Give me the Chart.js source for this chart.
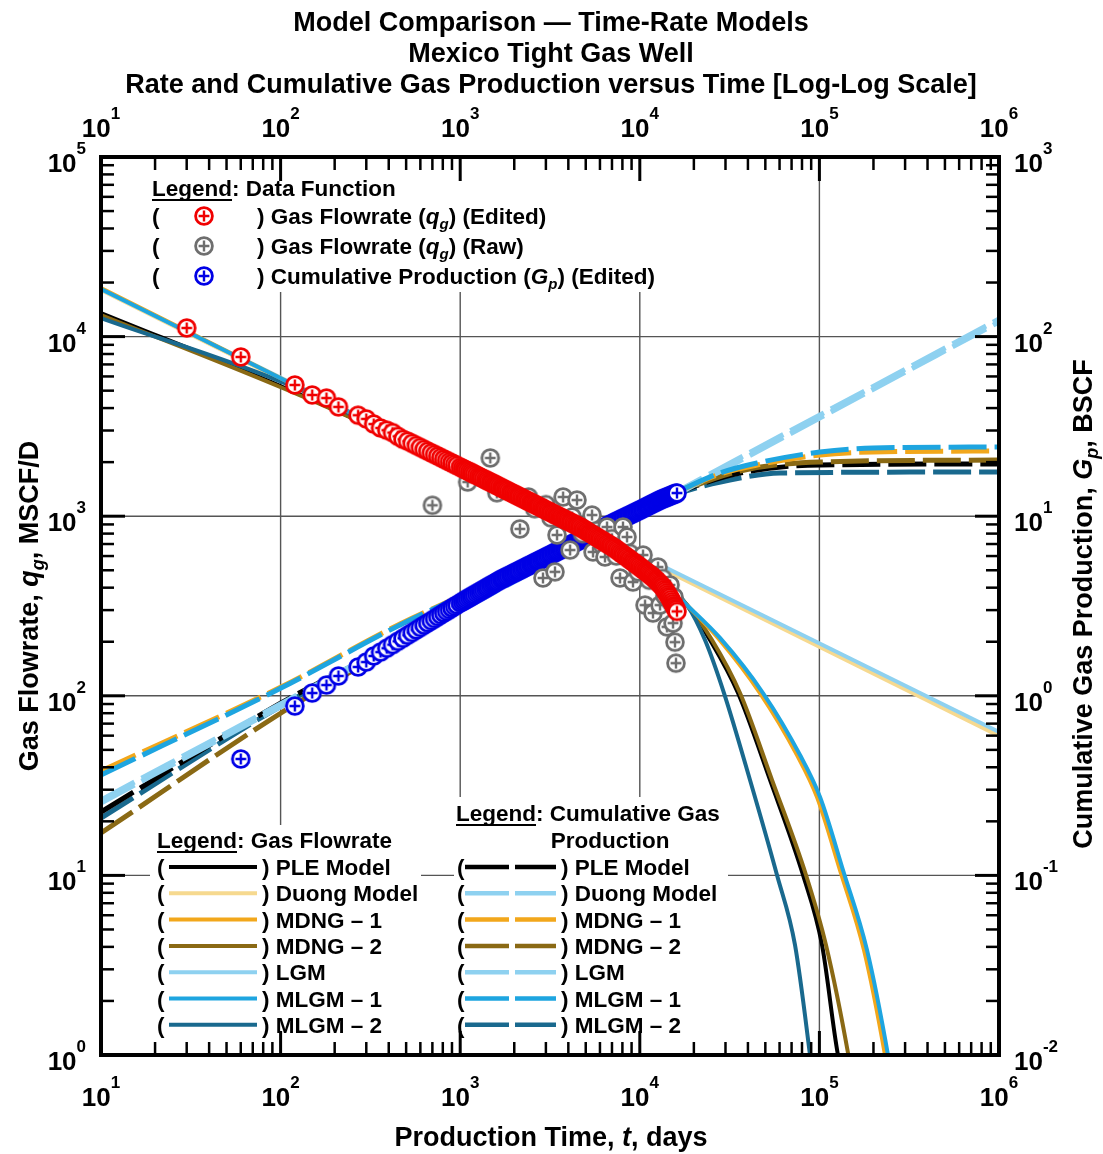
<!DOCTYPE html>
<html>
<head>
<meta charset="utf-8">
<script src="https://cdn.jsdelivr.net/npm/chart.js@4.4.1/dist/chart.umd.min.js"></script>
<style>
  html, body { margin: 0; padding: 0; background: #fff; }
  canvas { display: block; }
</style>
</head>
<body>
<canvas id="chart" width="1103" height="1154"></canvas>
<script>
const FONT = '"Liberation Sans", Arial, Helvetica, sans-serif';

/* axes: decades and exponent labels */
const xDecades   = [1e1, 1e2, 1e3, 1e4, 1e5, 1e6];
const xExponents = ['1', '2', '3', '4', '5', '6'];
const yDecades   = [1e0, 1e1, 1e2, 1e3, 1e4, 1e5];
const yExponents = ['0', '1', '2', '3', '4', '5'];
const y2Decades  = [1e-2, 1e-1, 1e0, 1e1, 1e2, 1e3];
const y2Exponents = ['-2', '-1', '0', '1', '2', '3'];
const minorSteps = [2, 3, 4, 5, 6, 7, 8, 9];

/* edited gas flowrate, MSCF/D */
const tEdited = [30, 60, 120, 150, 180, 210, 270, 300, 330, 360, 390, 420, 450, 480, 510, 540, 570, 600, 630, 660,
  690, 720, 750, 780, 810, 840, 870, 900, 930, 960,
  1000, 1025, 1050, 1075, 1100, 1125, 1150, 1175, 1200, 1230,
  1260, 1290, 1320, 1350, 1380, 1410, 1440, 1470, 1500, 1530,
  1560, 1590, 1620, 1655, 1690, 1720, 1750, 1785, 1820, 1860,
  1900, 1940, 1980, 2020, 2060, 2100, 2140, 2185, 2230, 2275,
  2320, 2365, 2410, 2460, 2510, 2560, 2610, 2660, 2710, 2765,
  2820, 2875, 2930, 2990, 3050, 3110, 3170, 3235, 3300, 3365,
  3430, 3500, 3570, 3640, 3710, 3785, 3860, 3935, 4010, 4090,
  4170, 4255, 4340, 4425, 4510, 4600, 4690, 4785, 4880, 4980,
  5080, 5180, 5280, 5385, 5490, 5600, 5710, 5825, 5940, 6060,
  6180, 6305, 6430, 6560, 6690, 6825, 6960, 7100, 7240, 7385,
  7530, 7680, 7830, 7985, 8140, 8305, 8470, 8640, 8810, 8985,
  9160, 9345, 9530, 9720, 9910, 10100, 10300, 10500, 10700, 10900,
  11100, 11300, 11500, 11700, 11900, 12100, 12300, 12500, 12700, 12900,
  13100, 13300, 13500, 13700, 13900, 14100, 14300, 14500, 14700, 14900,
  15100, 15300, 15500, 15650, 15800, 15950, 16100];
const qEdited = [11170, 7700, 5380, 4730, 4550, 4060, 3650, 3480, 3260, 3100, 3010, 2920, 2783, 2680, 2617, 2544, 2477, 2415, 2357, 2303,
  2253, 2206, 2162, 2121, 2082, 2045, 2009, 1976, 1944, 1913,
  1875, 1852, 1830, 1809, 1788, 1769, 1750, 1731, 1713, 1692,
  1672, 1653, 1634, 1616, 1598, 1581, 1565, 1549, 1534, 1519,
  1505, 1490, 1476, 1459, 1443, 1430, 1418, 1404, 1391, 1376,
  1361, 1347, 1334, 1321, 1308, 1295, 1283, 1270, 1257, 1244,
  1232, 1220, 1209, 1197, 1185, 1173, 1162, 1151, 1140, 1129,
  1118, 1107, 1096, 1085, 1074, 1064, 1054, 1043, 1033, 1023,
  1013, 1003, 993, 983, 974, 964, 955, 946, 937, 928,
  919, 910, 901, 892, 884, 875, 866, 855, 845, 835,
  825, 815, 806, 796, 787, 778, 769, 759, 750, 741,
  732, 723, 715, 706, 698, 689, 681, 672, 664, 654,
  645, 635, 626, 617, 608, 600, 591, 582, 574, 565,
  557, 549, 541, 533, 526, 518, 511, 503, 496, 489,
  482, 475, 469, 462, 456, 449, 442, 435, 428, 421,
  415, 408, 402, 393, 384, 375, 367, 359, 352, 343,
  334, 326, 319, 313, 307, 302, 295];

/* raw gas flowrate (visible outliers), MSCF/D */
const tRaw = [700, 1100, 1470, 1600, 2150, 2400, 2600, 2890, 3000, 3200, 3370, 3460, 3740, 4090, 4200, 4470, 4800, 5420, 5490, 5800,
  6200, 6400, 6570, 7000, 7400, 7760, 8060, 8490, 8800, 9165, 9800, 10420, 10690, 11300, 11840, 12000, 12630, 12960, 13400, 13800,
  14170, 14400, 14730, 15000, 15310, 15500, 15700, 15900];
const qRaw = [1150, 1550, 2110, 1350, 850, 1280, 1100, 453, 1160, 980, 490, 786, 1280, 648, 990, 1230, 800, 1015, 632, 830,
  690, 593, 871, 750, 600, 453, 871, 766, 620, 430, 490, 608, 320, 440, 289, 505, 521, 320, 450, 360,
  242, 400, 414, 330, 254, 355, 199, 152];

/* edited cumulative production, BSCF (same months as the edited rate, from day 60) */
const tCum = tEdited.slice(1);
const gCum = [0.445, 0.877, 1.036, 1.148, 1.289, 1.447, 1.542, 1.666, 1.751, 1.840, 1.927, 2.012, 2.093, 2.174, 2.252, 2.328, 2.403, 2.476, 2.548,
  2.618, 2.689, 2.758, 2.825, 2.891, 2.956, 3.021, 3.085, 3.148, 3.210,
  3.291, 3.338, 3.385, 3.430, 3.476, 3.521, 3.566, 3.610, 3.654, 3.706,
  3.758, 3.809, 3.860, 3.910, 3.960, 4.010, 4.059, 4.107, 4.154, 4.202,
  4.249, 4.296, 4.343, 4.395, 4.446, 4.485, 4.524, 4.569, 4.614, 4.664,
  4.714, 4.764, 4.813, 4.861, 4.909, 4.956, 5.003, 5.055, 5.107, 5.159,
  5.210, 5.260, 5.309, 5.364, 5.419, 5.472, 5.525, 5.578, 5.631, 5.687,
  5.743, 5.799, 5.855, 5.914, 5.973, 6.031, 6.089, 6.151, 6.213, 6.274,
  6.334, 6.398, 6.462, 6.525, 6.588, 6.654, 6.720, 6.784, 6.848, 6.916,
  6.983, 7.054, 7.125, 7.195, 7.264, 7.336, 7.408, 7.484, 7.560, 7.639,
  7.718, 7.796, 7.873, 7.954, 8.034, 8.116, 8.197, 8.282, 8.366, 8.452,
  8.538, 8.626, 8.714, 8.803, 8.892, 8.985, 9.077, 9.167, 9.256, 9.345,
  9.433, 9.523, 9.612, 9.703, 9.793, 9.888, 9.982, 10.08, 10.17, 10.27,
  10.36, 10.47, 10.57, 10.67, 10.77, 10.87, 10.97, 11.08, 11.19, 11.29,
  11.39, 11.50, 11.60, 11.70, 11.80, 11.90, 11.99, 12.09, 12.19, 12.28,
  12.37, 12.45, 12.52, 12.60, 12.67, 12.75, 12.82, 12.90, 12.97, 13.04,
  13.11, 13.18, 13.25, 13.31, 13.36, 13.41, 13.46];

/* model rate curves, MSCF/D */
const pleRateT   = [10, 105.8, 462, 1666, 3595, 7094, 11400, 18310, 24600, 35230, 53070, 81040, 103400, 126900, 137800];
const pleRateQ   = [13530, 5173, 2657, 1436, 1003, 691, 502, 320, 204.5, 103.6, 34.0, 10.05, 4.10, 1.0, 0.726];
const duongRateT = [10, 1e6];
const duongRateQ = [18180, 59.7];
const mdng1RateT = [10, 119, 462, 1666, 3595, 7094, 11400, 18310, 27250, 46700, 75050, 96960, 130200, 177100, 231900, 244100];
const mdng1RateQ = [18650, 5378, 2761, 1455, 1003, 691, 502, 320, 210, 103.6, 46.8, 27.3, 10.7, 3.84, 1.0, 0.726];
const mdng2RateT = [10, 105.8, 462, 1666, 3595, 7094, 11400, 18310, 25240, 36140, 54460, 84230, 108800, 145000, 152600];
const mdng2RateQ = [13190, 5108, 2657, 1436, 1003, 691, 502, 320, 204.5, 103.6, 34.0, 10.05, 4.10, 1.0, 0.726];
const lgmRateT   = [10, 1e6];
const lgmRateQ   = [18410, 62.9];
const mlgm1RateT = [10, 119, 462, 1666, 3595, 7094, 11400, 18310, 27960, 48530, 77980, 100800, 135300, 184100, 241000, 253700];
const mlgm1RateQ = [18410, 5378, 2761, 1455, 1003, 691, 502, 320, 210, 103.6, 46.8, 27.3, 10.7, 3.84, 1.0, 0.726];
const mlgm2RateT = [10, 118.8, 462, 1666, 3595, 7094, 11400, 18310, 23070, 29430, 41080, 58060, 73130, 88660, 92130];
const mlgm2RateQ = [12690, 5240, 2657, 1436, 1003, 691, 502, 320, 204.5, 103.6, 34.0, 10.05, 4.10, 1.0, 0.726];

/* model cumulative curves, BSCF */
const pleCumT   = [10, 100.5, 462, 1666, 4645, 10020, 16100, 36140, 100800, 1e6];
const pleCumG   = [0.2254, 0.912, 2.019, 4.357, 7.276, 10.83, 13.46, 17.40, 19.28, 19.53];
const duongCumT = [10, 1e6];
const duongCumG = [0.2530, 120.6];
const mdng1CumT = [10, 100.5, 462, 1666, 4645, 10020, 16100, 27960, 44940, 100800, 198800, 1e6];
const mdng1CumG = [0.3814, 1.119, 2.510, 4.528, 7.563, 11.11, 13.64, 17.18, 19.28, 21.92, 22.78, 23.07];
const mdng2CumT = [10, 100.5, 462, 1666, 4645, 10020, 16100, 36140, 100800, 1e6];
const mdng2CumG = [0.1722, 0.802, 1.968, 4.301, 7.276, 10.83, 13.46, 17.85, 20.03, 20.55];
const lgmCumT   = [10, 1e6];
const lgmCumG   = [0.2629, 125.3];
const mlgm1CumT = [10, 100.5, 462, 1666, 4645, 10020, 16100, 27960, 44940, 100800, 198800, 1e6];
const mlgm1CumG = [0.3622, 1.105, 2.479, 4.528, 7.563, 11.11, 13.64, 17.40, 19.78, 22.78, 23.97, 24.28];
const mlgm2CumT = [10, 100.5, 462, 1666, 4645, 10020, 16100, 36140, 60340, 1e6];
const mlgm2CumG = [0.2087, 0.877, 1.993, 4.301, 7.276, 10.69, 13.29, 16.32, 17.40, 17.63];

const modelNames = ['PLE Model', 'Duong Model', 'MDNG \u2013 1', 'MDNG \u2013 2', 'LGM', 'MLGM \u2013 1', 'MLGM \u2013 2'];

const black  = '#000000';
const wheat  = '#F6D98F';
const gold   = '#F2A71B';
const bronze = '#8A6914';
const sky    = '#8ED1F0';
const azure  = '#1EA5E0';
const navy   = '#19698E';
const rateColors = [black, wheat, gold, bronze, sky, azure, navy];
const cumColors  = [black, sky, gold, bronze, sky, azure, navy];

const B  = s => `bold ${s}px ${FONT}`;
const BI = s => `italic bold ${s}px ${FONT}`;

function makeMarker(color) {
  const c = document.createElement('canvas');
  c.width = 24; c.height = 24;
  const g = c.getContext('2d');
  g.beginPath();
  g.arc(12, 12, 8.4, 0, Math.PI * 2);
  g.fillStyle = '#fff';
  g.fill();
  g.lineWidth = 2.8;
  g.strokeStyle = color;
  g.stroke();
  g.beginPath();
  g.moveTo(6.6, 12); g.lineTo(17.4, 12);
  g.moveTo(12, 6.6); g.lineTo(12, 17.4);
  g.lineWidth = 2.4;
  g.stroke();
  return c;
}
const markRed  = makeMarker('#F00000');
const markGray = makeMarker('#6E6E6E');
const markBlue = makeMarker('#0000E6');

const pts = (ts, vs) => ts.map((t, i) => ({ x: t, y: vs[i] }));

function rateLine(label, ts, vs, color, order) {
  return { label, data: pts(ts, vs), yAxisID: 'y', showLine: true, borderColor: color, borderWidth: 4,
    pointRadius: 0, cubicInterpolationMode: 'monotone', order };
}
function cumLine(label, ts, vs, color, order) {
  return { label, data: pts(ts, vs), yAxisID: 'y2', showLine: true, borderColor: color, borderWidth: 5,
    borderDash: [38, 8], pointRadius: 0, cubicInterpolationMode: 'monotone', order };
}
function markers(label, ts, vs, axis, img, order) {
  return { label, data: pts(ts, vs), yAxisID: axis, showLine: false, pointStyle: img, pointRadius: 10, order };
}

function partsWidth(ctx, parts) {
  let w = 0;
  parts.forEach(p => { ctx.font = p.font; w += ctx.measureText(p.text).width; });
  return w;
}
function drawParts(ctx, parts, x, y) {
  let cx = x;
  parts.forEach(p => {
    ctx.font = p.font;
    ctx.fillText(p.text, cx, y + (p.dy || 0));
    cx += ctx.measureText(p.text).width;
  });
  return cx;
}
function legendHeader(ctx, x, y, rest) {
  ctx.font = B(22.5);
  ctx.fillText('Legend', x, y);
  const w = ctx.measureText('Legend').width;
  ctx.fillRect(x, y + 3, w, 2);
  ctx.fillText(rest, x + w, y);
}

const decor = {
  id: 'decor',
  beforeDatasetsDraw(chart) {
    const { ctx, chartArea: a } = chart;
    const sx = chart.scales.x, sy = chart.scales.y;
    ctx.save();
    ctx.strokeStyle = '#555';
    ctx.lineWidth = 1.4;
    ctx.beginPath();
    xDecades.forEach(v => {
      const p = sx.getPixelForValue(v);
      if (p > a.left + 3 && p < a.right - 3) { ctx.moveTo(p, a.top); ctx.lineTo(p, a.bottom); }
    });
    yDecades.forEach(v => {
      const p = sy.getPixelForValue(v);
      if (p > a.top + 3 && p < a.bottom - 3) { ctx.moveTo(a.left, p); ctx.lineTo(a.right, p); }
    });
    ctx.stroke();
    // legend backgrounds hide the grid
    ctx.fillStyle = '#fff';
    ctx.fillRect(140, 172, 525, 120);
    ctx.fillRect(150, 825, 271, 227);
    ctx.fillRect(454, 797, 274, 255);
    ctx.restore();
  },
  afterDatasetsDraw(chart) {
    const { ctx, chartArea: a } = chart;
    const sx = chart.scales.x, sy = chart.scales.y, sy2 = chart.scales.y2;
    ctx.save();
    ctx.strokeStyle = '#000';
    ctx.fillStyle = '#000';
    ctx.lineWidth = 4;
    ctx.strokeRect(a.left, a.top, a.right - a.left, a.bottom - a.top);

    const tick = (x1, y1, x2, y2, w) => {
      ctx.lineWidth = w;
      ctx.beginPath(); ctx.moveTo(x1, y1); ctx.lineTo(x2, y2); ctx.stroke();
    };
    xDecades.forEach((d, i) => {
      const p = sx.getPixelForValue(d);
      tick(p, a.bottom, p, a.bottom - 24, 3);
      tick(p, a.top, p, a.top + 24, 3);
      if (i < xDecades.length - 1) minorSteps.forEach(m => {
        const q = sx.getPixelForValue(d * m);
        tick(q, a.bottom, q, a.bottom - 13, 2.5);
        tick(q, a.top, q, a.top + 13, 2.5);
      });
    });
    yDecades.forEach((d, i) => {
      const p = sy.getPixelForValue(d);
      tick(a.left, p, a.left + 24, p, 3);
      if (i < yDecades.length - 1) minorSteps.forEach(m => {
        const q = sy.getPixelForValue(d * m);
        tick(a.left, q, a.left + 13, q, 2.5);
      });
    });
    y2Decades.forEach((d, i) => {
      const p = sy2.getPixelForValue(d);
      tick(a.right, p, a.right - 24, p, 3);
      if (i < y2Decades.length - 1) minorSteps.forEach(m => {
        const q = sy2.getPixelForValue(d * m);
        tick(a.right, q, a.right - 13, q, 2.5);
      });
    });

    /* tick labels: 10 with superscript */
    ctx.textBaseline = 'alphabetic';
    const pow = e => [{ text: '10', font: B(26) }, { text: e, font: B(17), dy: -18 }];
    xDecades.forEach((d, i) => {
      const p = sx.getPixelForValue(d);
      const parts = pow(xExponents[i]);
      const w = partsWidth(ctx, parts);
      drawParts(ctx, parts, p - w / 2, 1106);
      drawParts(ctx, parts, p - w / 2, 137);
    });
    yDecades.forEach((d, i) => {
      const p = sy.getPixelForValue(d);
      const parts = pow(yExponents[i]);
      drawParts(ctx, parts, 86 - partsWidth(ctx, parts), p + 15);
    });
    y2Decades.forEach((d, i) => {
      const p = sy2.getPixelForValue(d);
      drawParts(ctx, pow(y2Exponents[i]), 1014, p + 15);
    });

    /* titles */
    const titleLines = ['Model Comparison \u2014 Time-Rate Models', 'Mexico Tight Gas Well',
      'Rate and Cumulative Gas Production versus Time [Log-Log Scale]'];
    titleLines.forEach((s, i) => {
      const parts = [{ text: s, font: B(27) }];
      drawParts(ctx, parts, 551 - partsWidth(ctx, parts) / 2, 31 + i * 31);
    });
    const xTitle = [{ text: 'Production Time, ', font: B(27) }, { text: 't', font: BI(27) }, { text: ', days', font: B(27) }];
    drawParts(ctx, xTitle, 551 - partsWidth(ctx, xTitle) / 2, 1146);

    const yTitle = [{ text: 'Gas Flowrate, ', font: B(27) }, { text: 'q', font: BI(27) },
      { text: 'g', font: BI(18), dy: 6 }, { text: ', MSCF/D', font: B(27) }];
    ctx.save();
    ctx.translate(38, 606);
    ctx.rotate(-Math.PI / 2);
    drawParts(ctx, yTitle, -partsWidth(ctx, yTitle) / 2, 0);
    ctx.restore();

    const y2Title = [{ text: 'Cumulative Gas Production, ', font: B(27) }, { text: 'G', font: BI(27) },
      { text: 'p', font: BI(18), dy: 6 }, { text: ', BSCF', font: B(27) }];
    ctx.save();
    ctx.translate(1092, 604);
    ctx.rotate(-Math.PI / 2);
    drawParts(ctx, y2Title, -partsWidth(ctx, y2Title) / 2, 0);
    ctx.restore();

    /* legend: data functions */
    legendHeader(ctx, 152, 196, ': Data Function');
    const dataRows = [
      [markRed,  [{ text: ') Gas Flowrate (', font: B(22.5) }, { text: 'q', font: BI(22.5) }, { text: 'g', font: BI(15), dy: 5 }, { text: ') (Edited)', font: B(22.5) }]],
      [markGray, [{ text: ') Gas Flowrate (', font: B(22.5) }, { text: 'q', font: BI(22.5) }, { text: 'g', font: BI(15), dy: 5 }, { text: ') (Raw)', font: B(22.5) }]],
      [markBlue, [{ text: ') Cumulative Production (', font: B(22.5) }, { text: 'G', font: BI(22.5) }, { text: 'p', font: BI(15), dy: 5 }, { text: ') (Edited)', font: B(22.5) }]]
    ];
    dataRows.forEach((r, i) => {
      const cy = 216 + i * 30;
      ctx.font = B(22.5);
      ctx.fillText('(', 152, cy + 8);
      ctx.drawImage(r[0], 204 - 12, cy - 12);
      drawParts(ctx, r[1], 257, cy + 8);
    });

    /* legend: gas flowrate models */
    legendHeader(ctx, 157, 848, ': Gas Flowrate');
    modelNames.forEach((name, i) => {
      const cy = 867 + i * 26.3;
      ctx.font = B(22.5);
      ctx.fillText('(', 157, cy + 8);
      ctx.fillText(') ' + name, 262, cy + 8);
      ctx.strokeStyle = rateColors[i];
      ctx.lineWidth = 4;
      ctx.beginPath(); ctx.moveTo(169, cy); ctx.lineTo(257, cy); ctx.stroke();
    });

    /* legend: cumulative models */
    legendHeader(ctx, 456, 821, ': Cumulative Gas');
    ctx.font = B(22.5);
    ctx.textAlign = 'center';
    ctx.fillText('Production', 610, 848);
    ctx.textAlign = 'left';
    modelNames.forEach((name, i) => {
      const cy = 867 + i * 26.3;
      ctx.font = B(22.5);
      ctx.fillText('(', 457, cy + 8);
      ctx.fillText(') ' + name, 561, cy + 8);
      ctx.strokeStyle = cumColors[i];
      ctx.lineWidth = 4.5;
      ctx.setLineDash([44, 6]);
      ctx.beginPath(); ctx.moveTo(465, cy); ctx.lineTo(556, cy); ctx.stroke();
      ctx.setLineDash([]);
    });
    ctx.restore();
  }
};

new Chart(document.getElementById('chart'), {
  type: 'scatter',
  data: {
    datasets: [
      markers('Gas Flowrate (Edited)', tEdited, qEdited, 'y', markRed, 1),
      markers('Gas Flowrate (Raw)', tRaw, qRaw, 'y', markGray, 2),
      markers('Cumulative Production (Edited)', tCum, gCum, 'y2', markBlue, 3),
      rateLine('MLGM - 1', mlgm1RateT, mlgm1RateQ, azure, 10),
      rateLine('MDNG - 1', mdng1RateT, mdng1RateQ, gold, 11),
      rateLine('MLGM - 2', mlgm2RateT, mlgm2RateQ, navy, 12),
      rateLine('MDNG - 2', mdng2RateT, mdng2RateQ, bronze, 13),
      rateLine('PLE Model', pleRateT, pleRateQ, black, 14),
      rateLine('LGM', lgmRateT, lgmRateQ, sky, 15),
      rateLine('Duong Model', duongRateT, duongRateQ, wheat, 16),
      cumLine('MLGM - 1 Gp', mlgm1CumT, mlgm1CumG, azure, 20),
      cumLine('MDNG - 1 Gp', mdng1CumT, mdng1CumG, gold, 21),
      cumLine('LGM Gp', lgmCumT, lgmCumG, sky, 22),
      cumLine('Duong Gp', duongCumT, duongCumG, sky, 23),
      cumLine('MDNG - 2 Gp', mdng2CumT, mdng2CumG, bronze, 24),
      cumLine('PLE Gp', pleCumT, pleCumG, black, 25),
      cumLine('MLGM - 2 Gp', mlgm2CumT, mlgm2CumG, navy, 26)
    ]
  },
  options: {
    responsive: false,
    animation: false,
    events: [],
    layout: { padding: { left: 101, right: 104, top: 157, bottom: 99 } },
    plugins: { legend: { display: false }, tooltip: { enabled: false }, title: { display: false } },
    scales: {
      x: {
        type: 'logarithmic', position: 'bottom', min: 10, max: 1e6,
        grid: { display: false, drawTicks: false }, border: { display: false }, ticks: { display: false }
      },
      y: {
        type: 'logarithmic', position: 'left', min: 1, max: 1e5,
        grid: { display: false, drawTicks: false }, border: { display: false }, ticks: { display: false }
      },
      y2: {
        type: 'logarithmic', position: 'right', min: 0.01, max: 1000,
        grid: { display: false, drawTicks: false }, border: { display: false }, ticks: { display: false }
      }
    }
  },
  plugins: [decor]
});
</script>
</body>
</html>
